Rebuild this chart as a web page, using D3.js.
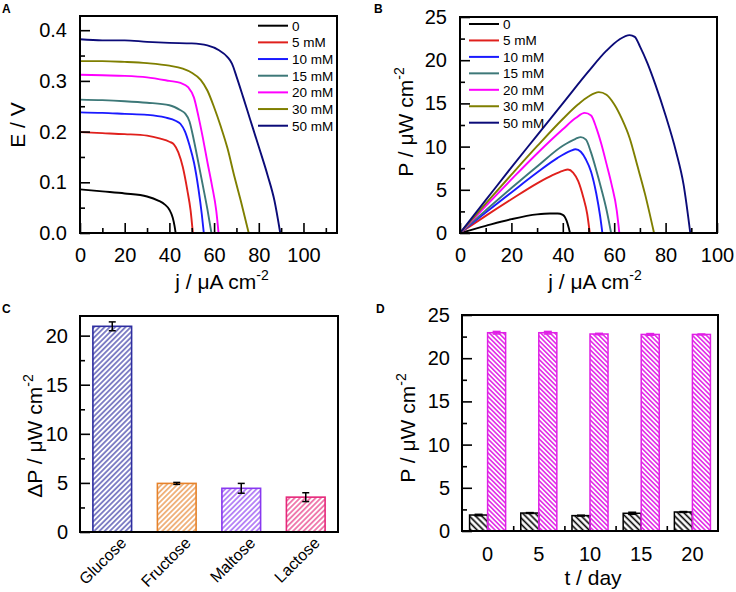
<!DOCTYPE html>
<html><head><meta charset="utf-8">
<script src="https://cdn.jsdelivr.net/npm/d3@7/dist/d3.min.js"></script>
<style>
body{margin:0;background:#fff}
text{font-family:"Liberation Sans",Arial,Helvetica,sans-serif;fill:#000}
</style>
</head><body>
<svg id="chart" width="736" height="592"></svg>
<script>
// ---------- DATA ----------
const concLabels = ["0","5 mM","10 mM","15 mM","20 mM","30 mM","50 mM"];
const concColors = ["#000000","#e0201c","#1a1aff","#3d7878","#ff00ff","#7f7f00","#0b0b78"];

// Panel A: E (V) vs j (uA cm-2)
const ej0  = [[0,0.086],[10,0.082],[20,0.078],[30,0.072],[35,0.064],[38,0.056],[40,0.046],[41.5,0.030],[42.3,0.014],[42.8,0]];
const ej5  = [[0,0.199],[10,0.197],[20,0.195],[30,0.192],[36,0.186],[40,0.180],[42,0.175],[44,0.159],[46,0.130],[48,0.085],[49.5,0.044],[50.5,0]];
const ej10 = [[0,0.238],[10,0.237],[20,0.235],[30,0.233],[38,0.228],[43,0.221],[45,0.215],[47,0.200],[49,0.173],[51,0.139],[53,0.087],[54.5,0.037],[55.4,0]];
const ej15 = [[0,0.263],[10,0.262],[20,0.260],[30,0.257],[40,0.252],[45,0.242],[47,0.236],[49,0.220],[51,0.182],[53,0.138],[55,0.093],[57,0.047],[58.8,0]];
const ej20 = [[0,0.312],[10,0.311],[20,0.310],[30,0.307],[40,0.300],[45,0.296],[48.5,0.287],[51,0.267],[53,0.230],[55,0.187],[57,0.140],[59,0.095],[61,0.043],[62,0]];
const ej30 = [[0,0.339],[10,0.339],[20,0.3375],[30,0.335],[40,0.330],[46,0.324],[50,0.316],[54,0.302],[57,0.281],[60,0.248],[63,0.210],[66,0.167],[69,0.113],[72,0.0625],[75.5,0]];
const ej50 = [[0,0.382],[10,0.380],[20,0.380],[30,0.377],[40,0.375],[50,0.374],[57,0.370],[62,0.361],[66,0.347],[68,0.334],[70,0.309],[73,0.268],[76,0.226],[80,0.170],[84,0.113],[87,0.064],[89.6,0]];

// Panel B: P (uW cm-2) vs j (uA cm-2)
const pj0  = [[0,0],[10,0.83],[20,1.6],[30,2.15],[35,2.25],[38,2.25],[40,2.1],[41.5,1.4],[42.3,0.6],[42.8,0]];
const pj5  = [[0,0],[10,1.98],[20,3.9],[30,5.75],[36,6.7],[40,7.2],[42,7.35],[44,7.0],[46,6.0],[48,4.1],[49.5,2.2],[50.5,0]];
const pj10 = [[0,0],[10,2.37],[20,4.7],[30,7.0],[38,8.7],[43,9.5],[45,9.7],[47,9.4],[49,8.5],[51,7.1],[53,4.6],[54.5,2.0],[55.4,0]];
const pj15 = [[0,0],[10,2.62],[20,5.2],[30,7.7],[40,10.1],[45,10.9],[47,11.1],[49,10.8],[51,9.3],[53,7.3],[55,5.1],[57,2.7],[58.8,0]];
const pj20 = [[0,0],[10,3.12],[20,6.2],[30,9.2],[40,12.0],[45,13.3],[48.5,13.9],[51,13.6],[53,12.2],[55,10.3],[57,8.0],[59,5.6],[61,2.6],[62,0]];
const pj30 = [[0,0],[10,3.39],[20,6.75],[30,10.05],[40,13.2],[46,14.9],[50,15.8],[54,16.3],[57,16.0],[60,14.9],[63,13.2],[66,11.0],[69,7.8],[72,4.5],[75.5,0]];
const pj50 = [[0,0],[10,3.8],[20,7.6],[30,11.3],[40,15.0],[50,18.7],[57,21.1],[62,22.4],[66,22.9],[68,22.7],[70,21.6],[73,19.6],[76,17.2],[80,13.6],[84,9.5],[87,5.6],[89.6,0]];

const ejSeries = [ej0, ej5, ej10, ej15, ej20, ej30, ej50];
const pjSeries = [pj0, pj5, pj10, pj15, pj20, pj30, pj50];

// Panel C
const sugarNames  = ["Glucose","Fructose","Maltose","Lactose"];
const sugarValues = [20.95, 4.95, 4.45, 3.55];
const sugarErrors = [0.45, 0.1, 0.5, 0.45];
const sugarColors = ["#2e2ea0","#e6822a","#8838f0","#e6287a"];

// Panel D
const dayLabels     = ["0","5","10","15","20"];
const blankValues   = [1.85, 2.08, 1.78, 2.05, 2.2];
const blankErrors   = [0.08, 0.05, 0.05, 0.12, 0.05];
const glucoseValues = [22.95, 22.95, 22.8, 22.75, 22.75];
const glucoseErrors = [0.15, 0.15, 0.08, 0.1, 0.05];
const stabColors    = ["#000000","#e020e6"];

// ---------- DRAW ----------
const svg = d3.select("#chart");
const FS = 20;

const defs = svg.append("defs");
function hatch(id, color, spacing, angle, sw){
  const p = defs.append("pattern").attr("id", id)
    .attr("patternUnits","userSpaceOnUse")
    .attr("width", spacing).attr("height", spacing)
    .attr("patternTransform", `rotate(${angle})`);
  p.append("line").attr("x1", spacing/2).attr("y1", 0).attr("x2", spacing/2).attr("y2", spacing)
    .attr("stroke", color).attr("stroke-width", sw);
}
sugarColors.forEach((c,i)=>hatch("hc"+i, c, 3.7, 45, 1.15));
hatch("hd0", stabColors[0], 4.4, -45, 1.6);
hatch("hd1", stabColors[1], 3.3, -45, 1.5);

function frame(x0,y0,x1,y1){
  svg.append("rect").attr("x",x0).attr("y",y0).attr("width",x1-x0).attr("height",y1-y0)
    .attr("fill","none").attr("stroke","#000").attr("stroke-width",2);
}
function styleAxis(g){
  g.select(".domain").remove();
  g.selectAll(".tick line").attr("stroke","#000").attr("stroke-width",1.6);
  g.selectAll("text").attr("font-size",FS);
}
function leftAxis(y, x0, major, minor, fmt, pad){
  const g = svg.append("g").attr("transform",`translate(${x0},0)`)
    .call(d3.axisLeft(y).tickValues(major).tickSize(-10).tickPadding(pad).tickFormat(fmt));
  styleAxis(g);
  const m = svg.append("g").attr("transform",`translate(${x0},0)`)
    .call(d3.axisLeft(y).tickValues(minor).tickSize(-5).tickFormat(""));
  styleAxis(m);
}
function bottomAxis(x, y0, major, minor, fmt, pad){
  const g = svg.append("g").attr("transform",`translate(0,${y0})`)
    .call(d3.axisBottom(x).tickValues(major).tickSize(-10).tickPadding(pad).tickFormat(fmt));
  styleAxis(g);
  if(minor){
    const m = svg.append("g").attr("transform",`translate(0,${y0})`)
      .call(d3.axisBottom(x).tickValues(minor).tickSize(-5).tickFormat(""));
    styleAxis(m);
  }
  return g;
}
function unitTitle(sel, main){
  sel.append("tspan").text(main);
  sel.append("tspan").text("-2").attr("font-size",14).attr("dy",-9);
}
function yTitle(x, y, main, sup){
  const t = svg.append("text").attr("transform",`translate(${x},${y}) rotate(-90)`)
    .attr("text-anchor","middle").attr("font-size",21);
  if(sup) unitTitle(t, main); else t.text(main);
}
function xTitle(x, y, main){
  const t = svg.append("text").attr("x",x).attr("y",y).attr("text-anchor","middle").attr("font-size",21);
  unitTitle(t, main);
}
function panelLetter(x,y,l){
  svg.append("text").attr("x",x).attr("y",y).attr("font-size",12).attr("font-weight","bold").text(l);
}
function legend(x0, y0, dy){
  concLabels.forEach((lab,i)=>{
    const yy = y0 + i*dy;
    svg.append("line").attr("x1",x0).attr("x2",x0+30).attr("y1",yy).attr("y2",yy)
      .attr("stroke",concColors[i]).attr("stroke-width",2);
    svg.append("text").attr("x",x0+34).attr("y",yy).attr("dy","0.36em").attr("font-size",13.5).text(lab);
  });
}

// ----- Panel A -----
{
  const x = d3.scaleLinear().domain([0,115]).range([80,337]);
  const y = d3.scaleLinear().domain([0,0.428]).range([233,16]);
  const line = d3.line().x(d=>x(d[0])).y(d=>y(d[1])).curve(d3.curveMonotoneX);
  ejSeries.forEach((s,i)=>{
    svg.append("path").datum(s).attr("d",line).attr("fill","none")
      .attr("stroke",concColors[i]).attr("stroke-width",1.9);
  });
  leftAxis(y, 80, [0,0.1,0.2,0.3,0.4], [0.05,0.15,0.25,0.35], d3.format(".1f"), 13);
  bottomAxis(x, 233, [0,20,40,60,80,100], [10,30,50,70,90,110], d3.format("d"), 15);
  frame(80,16,337,233);
  legend(258, 25.7, 16.67);
  yTitle(25, 125, "E / V", false);
  xTitle(222, 289, "j / \u03bcA cm");
  panelLetter(2,13,"A");
}

// ----- Panel B -----
{
  const x = d3.scaleLinear().domain([0,100]).range([460,717]);
  const y = d3.scaleLinear().domain([0,25]).range([233,17]);
  const line = d3.line().x(d=>x(d[0])).y(d=>y(d[1])).curve(d3.curveMonotoneX);
  pjSeries.forEach((s,i)=>{
    svg.append("path").datum(s).attr("d",line).attr("fill","none")
      .attr("stroke",concColors[i]).attr("stroke-width",1.9);
  });
  leftAxis(y, 460, [0,5,10,15,20,25], [2.5,7.5,12.5,17.5,22.5], d3.format("d"), 13);
  bottomAxis(x, 233, [0,20,40,60,80,100], [10,30,50,70,90], d3.format("d"), 15);
  frame(460,17,717,233);
  legend(469, 24, 16.45);
  yTitle(413, 122, "P / \u03bcW cm", true);
  xTitle(595, 289, "j / \u03bcA cm");
  panelLetter(374,13,"B");
}

// ----- Panel C -----
{
  const x = d3.scaleBand().domain(sugarNames).range([80,338]).paddingInner(0.4).paddingOuter(0.2);
  const y = d3.scaleLinear().domain([0,22]).range([532,316]);
  const g = svg.append("g");
  g.selectAll("rect.bar").data(sugarNames).join("rect")
    .attr("x",d=>x(d)).attr("width",x.bandwidth())
    .attr("y",(d,i)=>y(sugarValues[i])).attr("height",(d,i)=>y(0)-y(sugarValues[i]))
    .attr("fill",(d,i)=>`url(#hc${i})`).attr("stroke",(d,i)=>sugarColors[i]).attr("stroke-width",1.6);
  sugarNames.forEach((d,i)=>{
    const cx = x(d)+x.bandwidth()/2;
    const y1 = y(sugarValues[i]+sugarErrors[i]), y2 = y(sugarValues[i]-sugarErrors[i]);
    g.append("line").attr("x1",cx).attr("x2",cx).attr("y1",y1).attr("y2",y2).attr("stroke","#000").attr("stroke-width",1.5);
    [y1,y2].forEach(yy=>g.append("line").attr("x1",cx-3.5).attr("x2",cx+3.5).attr("y1",yy).attr("y2",yy).attr("stroke","#000").attr("stroke-width",1.5));
  });
  leftAxis(y, 80, [0,5,10,15,20], [2.5,7.5,12.5,17.5], d3.format("d"), 12);
  const ax = svg.append("g").attr("transform","translate(0,532)")
    .call(d3.axisBottom(x).tickSize(0).tickPadding(0));
  ax.select(".domain").remove();
  ax.selectAll("text").attr("font-size",16).attr("text-anchor","end")
    .attr("dy",null).attr("y",0)
    .attr("transform","translate(15,12) rotate(-45)");
  frame(80,316,338,532);
  yTitle(42, 436, "\u0394P / \u03bcW cm", true);
  panelLetter(2,313,"C");
}

// ----- Panel D -----
{
  const x = d3.scaleBand().domain(dayLabels).range([462,718]);
  const sub = d3.scaleBand().domain(["blank","glucose"]).range([0,x.bandwidth()]).paddingOuter(0.42);
  const y = d3.scaleLinear().domain([0,25]).range([531,315]);
  const groups = [
    {key:"blank", vals:blankValues, errs:blankErrors, ci:0},
    {key:"glucose", vals:glucoseValues, errs:glucoseErrors, ci:1}
  ];
  bottomAxis(d3.scaleLinear().domain([0,5]).range([462,718]), 531, [], [1,2,3,4], "", 0);
  const g = svg.append("g");
  groups.forEach(s=>{
    dayLabels.forEach((d,i)=>{
      const bx = x(d)+sub(s.key);
      g.append("rect").attr("x",bx).attr("width",sub.bandwidth())
        .attr("y",y(s.vals[i])).attr("height",y(0)-y(s.vals[i]))
        .attr("fill",`url(#hd${s.ci})`).attr("stroke",stabColors[s.ci]).attr("stroke-width",1.5);
      const cx = bx+sub.bandwidth()/2;
      const y1 = y(s.vals[i]+s.errs[i]), y2 = y(s.vals[i]-s.errs[i]);
      g.append("line").attr("x1",cx).attr("x2",cx).attr("y1",y1).attr("y2",y2).attr("stroke",stabColors[s.ci]).attr("stroke-width",1.5);
      [y1,y2].forEach(yy=>g.append("line").attr("x1",cx-4).attr("x2",cx+4).attr("y1",yy).attr("y2",yy).attr("stroke",stabColors[s.ci]).attr("stroke-width",1.5));
    });
  });
  leftAxis(y, 462, [0,5,10,15,20,25], [2.5,7.5,12.5,17.5,22.5], d3.format("d"), 12);
  const ax = svg.append("g").attr("transform","translate(0,531)")
    .call(d3.axisBottom(x).tickSize(0).tickPadding(16));
  ax.select(".domain").remove();
  ax.selectAll("text").attr("font-size",FS);
  frame(462,315,718,531);
  yTitle(415, 428, "P / \u03bcW cm", true);
  svg.append("text").attr("x",593).attr("y",585).attr("text-anchor","middle").attr("font-size",21).text("t / day");
  panelLetter(376,313,"D");
}
</script>
</body></html>
